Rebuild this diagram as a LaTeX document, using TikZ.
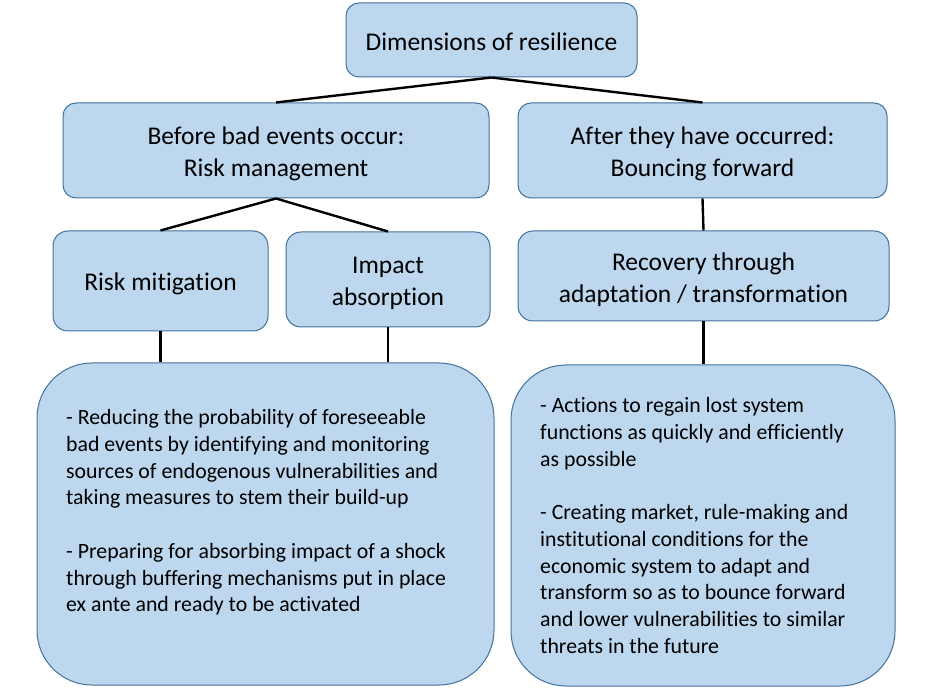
\documentclass[tikz,border=0pt]{standalone}
\usepackage{fontspec}
\setmainfont{Carlito}[Ligatures={NoCommon}]
\definecolor{boxfill}{HTML}{BDD7EE}
\definecolor{boxline}{HTML}{41719C}
\begin{document}
\begin{tikzpicture}[x=1pt,y=-1pt,
  box/.style={draw=boxline, line width=1pt, fill=boxfill, rounded corners=13pt, inner sep=0pt},
  hdr/.style={font=\fontsize{25.5}{32}\selectfont, align=center, text=black, inner sep=0pt},
  body/.style={font=\fontsize{21.8}{26.7}\selectfont, align=left, inner sep=0pt, anchor=north west, text=black},
  link/.style={line width=2.4pt, black}]
\useasboundingbox (0,0) rectangle (929,692);
% boxes
\node[box, minimum width=291pt, minimum height=74pt] (top) at (491.5,40) {};
\node[box, minimum width=426pt, minimum height=95pt] (before) at (276,150.5) {};
\node[box, minimum width=369pt, minimum height=95pt] (after) at (702.5,150.5) {};
\node[box, rounded corners=15pt, minimum width=215pt, minimum height=100pt] (mit) at (160.5,281) {};
\node[box, rounded corners=15pt, minimum width=204pt, minimum height=95pt] (abs) at (388,279.5) {};
\node[box, rounded corners=15pt, minimum width=371pt, minimum height=90pt] (rec) at (703.5,276) {};
\node[box, rounded corners=55pt, minimum width=457pt, minimum height=322pt] (lbig) at (265.5,524) {};
\node[box, rounded corners=55pt, minimum width=384pt, minimum height=321pt] (rbig) at (703,525.5) {};
% header texts
\node[hdr] (toptext) at ([yshift=-1.5pt]top.center) {Dimensions of resilience};
\node[hdr] (beforetext) at ([yshift=-3.5pt]before.center) {Before bad events occur:\\Risk management};
\node[hdr] (aftertext) at ([yshift=-3.5pt]after.center) {After they have occurred:\\Bouncing forward};
\node[hdr] (mittext) at ([yshift=-3pt]mit.center) {Risk mitigation};
\node[hdr] (abstext) at ([yshift=-4pt]abs.center) {Impact\\absorption};
\node[hdr] (rectext) at ([yshift=-3.5pt]rec.center) {Recovery through\\adaptation / transformation};
% body texts
\node[body] (ltext) at (66,409.5) {- Reducing the probability of foreseeable\\bad events by identifying and monitoring\\sources of endogenous vulnerabilities and\\taking measures to stem their build-up\\[26.7pt]- Preparing for absorbing impact of a shock\\through buffering mechanisms put in place\\ex ante and ready to be activated};
\node[body] (rtext) at (540,397.5) {- Actions to regain lost system\\functions as quickly and efficiently\\as possible\\[26.7pt]- Creating market, rule-making and\\institutional conditions for the\\economic system to adapt and\\transform so as to bounce forward\\and lower vulnerabilities to similar\\threats in the future};
% connectors
\draw[link] (top.south) -- (before.north);
\draw[link] (top.south) -- (after.north);
\draw[link] (before.south) -- (mit.north);
\draw[link] (before.south) -- (abs.north);
\draw[link] (after.south) -- (rec.north);
\draw[link] (mit.south) -- (mit.south |- lbig.north);
\draw[link] (abs.south) -- (abs.south |- lbig.north);
\draw[link] (rec.south) -- (rec.south |- rbig.north);
\end{tikzpicture}
\end{document}
